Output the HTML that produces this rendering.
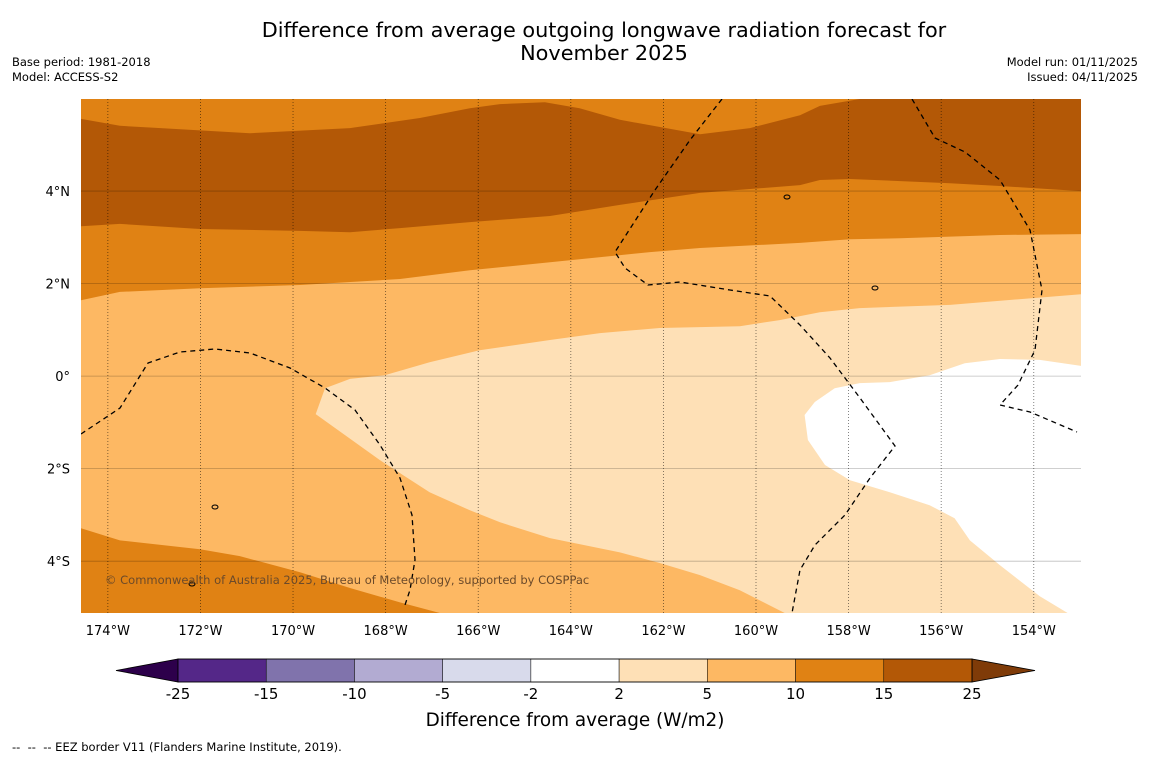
<!DOCTYPE html>
<html><head><meta charset="utf-8">
<style>
body{margin:0;background:#fff;font-family:"DejaVu Sans","Liberation Sans",sans-serif;}
#wrap{position:relative;width:1150px;height:758px;overflow:hidden;background:#fff;}
.t{position:absolute;white-space:nowrap;color:#000;}
</style></head><body>
<div id="wrap">
<div class="t" style="left:0;width:1208px;top:19px;text-align:center;font-size:20.8px;line-height:23px;">Difference from average outgoing longwave radiation forecast for<br>November 2025</div>
<div class="t" style="left:12px;top:55px;font-size:11.5px;line-height:15px;">Base period: 1981-2018<br>Model: ACCESS-S2</div>
<div class="t" style="right:12px;top:55px;font-size:11.5px;line-height:15px;text-align:right;">Model run: 01/11/2025<br>Issued: 04/11/2025</div>
<div class="t" style="left:12px;top:740px;font-size:11.5px;">--&nbsp; --&nbsp; -- EEZ border V11 (Flanders Marine Institute, 2019).</div>
<svg id="svg" width="1150" height="758" style="position:absolute;left:0;top:0"></svg>
</div>
<script>
const band10UpperLons=[-174.58,-173.74,-172.01,-169.85,-167.69,-166.18,-164.45,-162.29,-161.21,-159.05,-157.97,-156.89,-154.73,-152.98];
const band10UpperLats=[1.64,1.82,1.90,1.97,2.10,2.29,2.46,2.68,2.77,2.88,2.96,2.98,3.05,3.07];
const band15LowerLons=[-174.58,-173.74,-172.01,-169.85,-168.77,-167.69,-166.18,-164.45,-162.94,-161.21,-159.05,-158.62,-157.97,-155.81,-154.73,-152.98];
const band15LowerLats=[3.24,3.29,3.18,3.14,3.11,3.20,3.33,3.46,3.70,3.96,4.13,4.24,4.26,4.17,4.11,4.0];
const band15UpperLons=[-174.58,-173.74,-170.93,-168.77,-167.26,-166.18,-165.53,-164.56,-163.81,-162.94,-161.21,-160.13,-159.05,-158.62,-157.76,-152.98];
const band15UpperLats=[5.56,5.41,5.25,5.36,5.58,5.79,5.88,5.92,5.79,5.54,5.23,5.36,5.64,5.84,5.99,5.99];
const swBandLons=[-174.58,-173.74,-172.01,-171.15,-169.85,-168.77,-167.69,-166.83];
const swBandLats=[-3.29,-3.55,-3.74,-3.89,-4.24,-4.58,-4.89,-5.12];
const lightLons=[-169.51,-169.31,-168.77,-168.02,-167.05,-165.97,-164.45,-163.37,-162.08,-160.35,-159.49,-158.62,-157.76,-155.81,-152.98,-152.98,-159.38,-160.35,-161.21,-162.08,-162.94,-164.45,-165.53,-166.18,-167.05,-168.12];
const lightLats=[-0.82,-0.26,-0.06,0.02,0.30,0.56,0.78,0.93,1.04,1.08,1.21,1.38,1.47,1.54,1.77,-5.12,-5.12,-4.63,-4.30,-4.04,-3.81,-3.50,-3.16,-2.90,-2.51,-1.82];
const whiteLons=[-152.98,-153.87,-154.73,-155.49,-156.25,-157.11,-157.76,-158.30,-158.73,-158.95,-158.88,-158.51,-157.97,-157.11,-156.25,-155.71,-155.38,-154.73,-153.87,-153.27,-152.98];
const whiteLats=[0.22,0.35,0.37,0.28,0.02,-0.13,-0.15,-0.26,-0.56,-0.84,-1.38,-1.92,-2.25,-2.51,-2.79,-3.07,-3.55,-4.09,-4.76,-5.12,-5.12];
const lonTicks=[-174,-172,-170,-168,-166,-164,-162,-160,-158,-156,-154];
const lonTickLabels=["174°W","172°W","170°W","168°W","166°W","164°W","162°W","160°W","158°W","156°W","154°W"];
const latTicks=[4,2,0,-2,-4];
const latTickLabels=["4°N","2°N","0°","2°S","4°S"];
const cbLevels=["-25","-15","-10","-5","-2","2","5","10","15","25"];
const cbColors=["#542788","#8073ac","#b2abd2","#d8daeb","#ffffff","#fee0b6","#fdb863","#e08214","#b35806"];

const X0=81,X1=1081,Y0=99,Y1=613;
const LON0=-174.58,LON1=-152.98,LAT0=5.99,LAT1=-5.12;
const xS=l=>X0+(l-LON0)/(LON1-LON0)*(X1-X0);
const yS=l=>Y0+(l-LAT0)/(LAT1-LAT0)*(Y1-Y0);
const svg=document.getElementById('svg');
const NS='http://www.w3.org/2000/svg';
function mk(tag,attrs,parent){const e=document.createElementNS(NS,tag);for(const k in attrs)e.setAttribute(k,attrs[k]);(parent||svg).appendChild(e);return e;}
function pts(lons,lats){return lons.map((l,i)=>xS(l).toFixed(1)+','+yS(lats[i]).toFixed(1));}

const cp=mk('clipPath',{id:'mapclip'});mk('rect',{x:X0,y:Y0,width:X1-X0,height:Y1-Y0},cp);
const g=mk('g',{'clip-path':'url(#mapclip)'});
let r=mk('rect',{x:X0,y:Y0,width:X1-X0,height:Y1-Y0,fill:'#fdb863'},g);


let p=mk('polygon',{points:[X0+','+Y0,X1+','+Y0].concat(pts(band10UpperLons,band10UpperLats).reverse()).join(' '),fill:'#e08214'},g);


p=mk('polygon',{points:pts(band15UpperLons,band15UpperLats).concat(pts(band15LowerLons,band15LowerLats).reverse()).join(' '),fill:'#b35806'},g);


p=mk('polygon',{points:pts(swBandLons,swBandLats).concat([X0+','+Y1]).join(' '),fill:'#e08214'},g);


p=mk('polygon',{points:pts(lightLons,lightLats).join(' '),fill:'#fee0b6'},g);


p=mk('polygon',{points:pts(whiteLons,whiteLats).join(' '),fill:'#ffffff'},g);



latTicks.forEach((v,i)=>{
 const l=mk('line',{x1:X0,x2:X1,y1:yS(v),y2:yS(v),stroke:'#000','stroke-opacity':0.25,'stroke-width':0.8});
 
 
 const t=mk('text',{x:70,y:yS(v)+5,'text-anchor':'end','font-size':13,'font-family':'DejaVu Sans, sans-serif'});
 t.textContent=latTickLabels[i];
 
 
});
lonTicks.forEach((v,i)=>{
 const l=mk('line',{x1:xS(v),x2:xS(v),y1:Y0,y2:Y1,stroke:'#000','stroke-opacity':0.6,'stroke-width':0.8,'stroke-dasharray':'1,2'});
 
 
 const t=mk('text',{x:xS(v),y:635,'text-anchor':'middle','font-size':13,'font-family':'DejaVu Sans, sans-serif'});
 t.textContent=lonTickLabels[i];
 
 
});
const eez=["M81,434 L120,408 L148,363 L180,352 L215,349 L250,353 L290,368 L325,388 L355,410 L380,445 L400,478 L412,515 L415,560 L410,590 L404,608",
"M722,99 L690,140 L655,190 L615,252 L625,268 L648,285 L680,282 L730,290 L770,296 L800,325 L830,358 L860,398 L895,446 L870,478 L845,515 L815,545 L800,570 L792,613",
"M912,99 L935,138 L965,152 L1000,180 L1030,230 L1042,290 L1035,350 L1018,385 L1000,405 L1030,412 L1077,432"];
eez.forEach(d=>{const e=mk('path',{d:d,fill:'none',stroke:'#000','stroke-width':1.3,'stroke-dasharray':'5,4'},g);
 
 });
[[787,197],[875,288],[215,507],[192,584]].forEach(c=>{const e=mk('ellipse',{cx:c[0],cy:c[1],rx:3,ry:2,fill:'none',stroke:'#000','stroke-width':1},g);
 
 });
let ct=mk('text',{x:105,y:584,'font-size':11.5,fill:'#6b4a2a','font-family':'DejaVu Sans, sans-serif'});
ct.textContent='© Commonwealth of Australia 2025, Bureau of Meteorology, supported by COSPPac';



const CB0=178,CB1=972,CBY=659,CBH=23,w=(CB1-CB0)/cbColors.length;
let tri=mk('polygon',{points:`116,${CBY+CBH/2} ${CB0},${CBY} ${CB0},${CBY+CBH}`,fill:'#2d004b',stroke:'#000','stroke-width':0.8});


tri=mk('polygon',{points:`1035,${CBY+CBH/2} ${CB1},${CBY} ${CB1},${CBY+CBH}`,fill:'#7f3b08',stroke:'#000','stroke-width':0.8});


cbColors.forEach((c,i)=>{const b=mk('rect',{x:CB0+i*w,y:CBY,width:w,height:CBH,fill:c,stroke:'#000','stroke-width':0.5});
 
 });
mk('rect',{x:CB0,y:CBY,width:CB1-CB0,height:CBH,fill:'none',stroke:'#000','stroke-width':0.8});
cbLevels.forEach((s,i)=>{const t=mk('text',{x:CB0+i*w,y:699,'text-anchor':'middle','font-size':15,'font-family':'DejaVu Sans, sans-serif'});
 t.textContent=s;
 
 });
let ttl=mk('text',{x:575,y:726,'text-anchor':'middle','font-size':18.4,'font-family':'DejaVu Sans, sans-serif'});
ttl.textContent='Difference from average (W/m2)';


</script>
</body></html>
